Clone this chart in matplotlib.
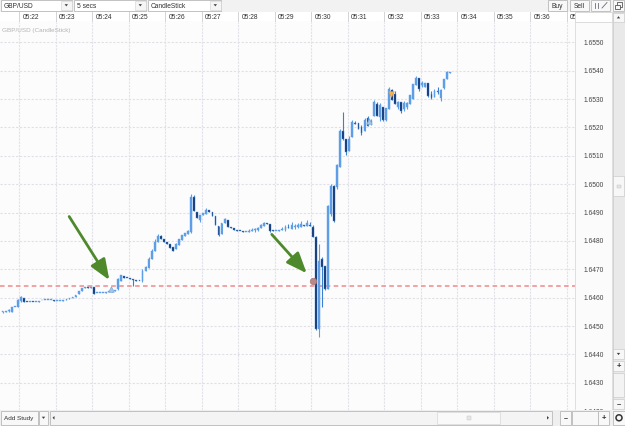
import matplotlib
matplotlib.use("Agg")
import matplotlib.pyplot as plt
from matplotlib.patches import Rectangle, Polygon
from matplotlib.transforms import offset_copy
from datetime import datetime
import numpy as np

plt.rcParams['font.family'] = ['Liberation Sans', 'DejaVu Sans']

# ---------------- data ----------------
symbol = "GBP/USD"
interval_label = "5 secs"
chart_type = "CandleStick"
first_bar_time = "05:21:30"
bar_seconds = 5

opens = [1.64548, 1.64550, 1.64552, 1.64548, 1.64566, 1.64566, 1.64587, 1.64598, 1.64585, 1.64584,
         1.64585, 1.64584, 1.64585, 1.64590, 1.64593, 1.64593, 1.64592, 1.64590, 1.64588, 1.64588,
         1.64589, 1.64592, 1.64594, 1.64598, 1.64601, 1.64612, 1.64622, 1.64635, 1.64636, 1.64635,
         1.64636, 1.64615, 1.64618, 1.64618, 1.64618, 1.64619, 1.64620, 1.64622, 1.64629, 1.64657,
         1.64675, 1.64670, 1.64668, 1.64665, 1.64661, 1.64659, 1.64657, 1.64693, 1.64703, 1.64735,
         1.64763, 1.64795, 1.64816, 1.64806, 1.64795, 1.64788, 1.64778, 1.64770, 1.64785, 1.64802,
         1.64816, 1.64823, 1.64830, 1.64954, 1.64901, 1.64873, 1.64890, 1.64894, 1.64908, 1.64901,
         1.64887, 1.64852, 1.64823, 1.64862, 1.64873, 1.64848, 1.64845, 1.64839, 1.64836, 1.64834,
         1.64832, 1.64832, 1.64836, 1.64838, 1.64839, 1.64845, 1.64852, 1.64862, 1.64859, 1.64838,
         1.64834, 1.64836, 1.64838, 1.64838, 1.64848, 1.64841, 1.64848, 1.64848, 1.64848, 1.64855,
         1.64852, 1.64855, 1.64848, 1.64813, 1.64488, 1.64735, 1.64710, 1.64629, 1.64894, 1.64993,
         1.64989, 1.65060, 1.65187, 1.65159, 1.65116, 1.65166, 1.65215, 1.65215, 1.65201, 1.65187,
         1.65233, 1.65215, 1.65240, 1.65282, 1.65236, 1.65272, 1.65226, 1.65265, 1.65332, 1.65318,
         1.65272, 1.65289, 1.65265, 1.65272, 1.65282, 1.65300, 1.65349, 1.65374, 1.65349, 1.65342,
         1.65356, 1.65318, 1.65307, 1.65328, 1.65303, 1.65339, 1.65370, 1.65392]
highs = [1.64552, 1.64552, 1.64559, 1.64566, 1.64566, 1.64594, 1.64605, 1.64598, 1.64585, 1.64585,
         1.64585, 1.64585, 1.64587, 1.64592, 1.64593, 1.64593, 1.64592, 1.64590, 1.64588, 1.64589,
         1.64590, 1.64594, 1.64598, 1.64603, 1.64608, 1.64622, 1.64635, 1.64636, 1.64636, 1.64636,
         1.64636, 1.64618, 1.64618, 1.64618, 1.64619, 1.64622, 1.64622, 1.64626, 1.64668, 1.64680,
         1.64675, 1.64670, 1.64668, 1.64665, 1.64661, 1.64659, 1.64700, 1.64710, 1.64742, 1.64770,
         1.64806, 1.64823, 1.64820, 1.64806, 1.64795, 1.64788, 1.64778, 1.64792, 1.64806, 1.64820,
         1.64827, 1.64838, 1.64965, 1.64961, 1.64901, 1.64890, 1.64898, 1.64915, 1.64908, 1.64901,
         1.64887, 1.64852, 1.64862, 1.64880, 1.64873, 1.64848, 1.64845, 1.64839, 1.64836, 1.64834,
         1.64833, 1.64841, 1.64845, 1.64845, 1.64848, 1.64859, 1.64866, 1.64862, 1.64859, 1.64838,
         1.64836, 1.64838, 1.64848, 1.64855, 1.64859, 1.64866, 1.64859, 1.64862, 1.64869, 1.64855,
         1.64873, 1.64866, 1.64855, 1.64816, 1.64788, 1.64742, 1.64710, 1.64926, 1.65000, 1.64996,
         1.65070, 1.65194, 1.65254, 1.65159, 1.65169, 1.65226, 1.65222, 1.65215, 1.65208, 1.65233,
         1.65240, 1.65229, 1.65296, 1.65289, 1.65286, 1.65272, 1.65268, 1.65342, 1.65335, 1.65328,
         1.65293, 1.65289, 1.65293, 1.65289, 1.65314, 1.65353, 1.65381, 1.65374, 1.65363, 1.65356,
         1.65356, 1.65328, 1.65335, 1.65342, 1.65335, 1.65370, 1.65399, 1.65395]
lows = [1.64546, 1.64548, 1.64550, 1.64548, 1.64566, 1.64566, 1.64583, 1.64583, 1.64584, 1.64584,
        1.64584, 1.64584, 1.64585, 1.64590, 1.64593, 1.64593, 1.64592, 1.64588, 1.64588, 1.64588,
        1.64589, 1.64592, 1.64594, 1.64598, 1.64601, 1.64612, 1.64622, 1.64635, 1.64635, 1.64635,
        1.64612, 1.64615, 1.64618, 1.64618, 1.64618, 1.64619, 1.64620, 1.64622, 1.64626, 1.64657,
        1.64670, 1.64668, 1.64665, 1.64640, 1.64659, 1.64657, 1.64654, 1.64693, 1.64703, 1.64735,
        1.64763, 1.64795, 1.64806, 1.64795, 1.64788, 1.64774, 1.64763, 1.64770, 1.64785, 1.64802,
        1.64816, 1.64823, 1.64827, 1.64905, 1.64880, 1.64866, 1.64890, 1.64894, 1.64903, 1.64887,
        1.64855, 1.64816, 1.64823, 1.64862, 1.64848, 1.64845, 1.64839, 1.64836, 1.64834, 1.64832,
        1.64832, 1.64832, 1.64836, 1.64830, 1.64834, 1.64845, 1.64852, 1.64859, 1.64830, 1.64834,
        1.64834, 1.64836, 1.64838, 1.64834, 1.64846, 1.64841, 1.64841, 1.64845, 1.64848, 1.64852,
        1.64852, 1.64852, 1.64813, 1.64485, 1.64460, 1.64566, 1.64626, 1.64629, 1.64887, 1.64866,
        1.64982, 1.65060, 1.65155, 1.65102, 1.65116, 1.65166, 1.65212, 1.65194, 1.65173, 1.65187,
        1.65205, 1.65208, 1.65240, 1.65240, 1.65222, 1.65222, 1.65222, 1.65265, 1.65296, 1.65282,
        1.65265, 1.65250, 1.65258, 1.65265, 1.65282, 1.65300, 1.65349, 1.65328, 1.65342, 1.65342,
        1.65307, 1.65300, 1.65307, 1.65318, 1.65293, 1.65335, 1.65370, 1.65392]
closes = [1.64550, 1.64550, 1.64555, 1.64566, 1.64566, 1.64590, 1.64601, 1.64585, 1.64584, 1.64585,
          1.64584, 1.64585, 1.64587, 1.64592, 1.64593, 1.64593, 1.64592, 1.64588, 1.64588, 1.64589,
          1.64590, 1.64594, 1.64598, 1.64603, 1.64608, 1.64622, 1.64635, 1.64636, 1.64635, 1.64636,
          1.64612, 1.64618, 1.64618, 1.64618, 1.64619, 1.64622, 1.64622, 1.64626, 1.64665, 1.64679,
          1.64670, 1.64668, 1.64665, 1.64663, 1.64659, 1.64657, 1.64693, 1.64707, 1.64735, 1.64763,
          1.64795, 1.64816, 1.64806, 1.64795, 1.64788, 1.64774, 1.64763, 1.64788, 1.64806, 1.64820,
          1.64827, 1.64834, 1.64954, 1.64905, 1.64880, 1.64890, 1.64898, 1.64908, 1.64903, 1.64887,
          1.64855, 1.64820, 1.64862, 1.64876, 1.64848, 1.64845, 1.64839, 1.64836, 1.64834, 1.64832,
          1.64833, 1.64836, 1.64838, 1.64839, 1.64845, 1.64855, 1.64862, 1.64859, 1.64834, 1.64834,
          1.64836, 1.64838, 1.64841, 1.64848, 1.64846, 1.64855, 1.64852, 1.64855, 1.64859, 1.64852,
          1.64862, 1.64852, 1.64813, 1.64488, 1.64728, 1.64707, 1.64629, 1.64922, 1.64993, 1.64869,
          1.65067, 1.65187, 1.65159, 1.65113, 1.65159, 1.65219, 1.65212, 1.65194, 1.65180, 1.65226,
          1.65205, 1.65222, 1.65289, 1.65240, 1.65279, 1.65226, 1.65268, 1.65335, 1.65296, 1.65282,
          1.65289, 1.65258, 1.65286, 1.65286, 1.65314, 1.65353, 1.65374, 1.65335, 1.65356, 1.65356,
          1.65310, 1.65303, 1.65328, 1.65325, 1.65332, 1.65370, 1.65395, 1.65395]

time_labels = ["05:22", "05:23", "05:24", "05:25", "05:26", "05:27", "05:28", "05:29",
               "05:30", "05:31", "05:32", "05:33", "05:34", "05:35", "05:36", "05:37"]
price_ticks = [1.6420, 1.6430, 1.6440, 1.6450, 1.6460, 1.6470, 1.6480,
               1.6490, 1.6500, 1.6510, 1.6520, 1.6530, 1.6540, 1.6550]
alert_level = 1.64642
buy_marker_bar = [35.6, 120.5]
buy_marker_price = [1.64630, 1.65222]
sell_marker_bar = [127.7]
sell_marker_price = [1.65318]
fill_bar = [102.2]
fill_price = [1.64658]
arrow_start_bar = [21.9, 88.5]
arrow_start_price = [1.64886, 1.64823]
arrow_tip_bar = [35.1, 100.0]
arrow_tip_price = [1.64662, 1.64686]

# ---------------- figure ----------------
W, H = 625, 427
fig = plt.figure(figsize=(W / 100, H / 100), dpi=100)
fig.patch.set_facecolor('#efefef')

ui = fig.add_axes([0, 0, 1, 1], zorder=0)
ui.set_xlim(0, W)
ui.set_ylim(H, 0)
ui.axis('off')


def px_axes(x0, y0, x1, y1, z=1):
    return fig.add_axes([x0 / W, 1 - y1 / H, (x1 - x0) / W, (y1 - y0) / H], zorder=z)


def box(x0, y0, x1, y1, fc='#ffffff', ec='#b9b9b9', lw=0.6, z=1):
    ui.add_patch(Rectangle((x0, y0), x1 - x0, y1 - y0, facecolor=fc,
                           edgecolor=ec, linewidth=lw, zorder=z))


def txt(x, y, s, size=4.8, color='#303030', ha='left', va='center', **kw):
    ui.text(x, y, s, fontsize=size, color=color, ha=ha, va=va, **kw)


def tri(cx, cy, w, h, direction, color='#404040'):
    if direction == 'down':
        pts = [(cx - w / 2, cy - h / 2), (cx + w / 2, cy - h / 2), (cx, cy + h / 2)]
    elif direction == 'up':
        pts = [(cx - w / 2, cy + h / 2), (cx + w / 2, cy + h / 2), (cx, cy - h / 2)]
    elif direction == 'left':
        pts = [(cx + h / 2, cy - w / 2), (cx + h / 2, cy + w / 2), (cx - h / 2, cy)]
    else:
        pts = [(cx - h / 2, cy - w / 2), (cx - h / 2, cy + w / 2), (cx + h / 2, cy)]
    ui.add_patch(Polygon(pts, closed=True, facecolor=color, edgecolor='none', zorder=3))


# toolbar
box(0, 0, W, 12.5, fc='#f2f2f2', ec='none')
for (x0, x1, s) in [(1, 72, symbol), (74, 146, interval_label), (148, 221, chart_type)]:
    box(x0, 1, x1, 11.5)
    txt(x0 + 3, 6.5, s)
    box(x1 - 11, 1.5, x1 - 0.5, 11, fc='#f5f5f5', ec='#d0d0d0', lw=0.4)
    tri(x1 - 5.7, 6.3, 3.4, 2.2, 'down')
box(548, 1, 567, 11.5, fc='#f8f8f8')
txt(557.5, 6.5, 'Buy', ha='center')
box(570, 1, 589, 11.5, fc='#f8f8f8')
txt(579.5, 6.5, 'Sell', ha='center')
box(591, 1, 610, 11.5, fc='#f8f8f8')
for xx in (595, 597.5):
    ui.plot([xx, xx], [3.5, 9], color='#6b6b7a', lw=0.6, zorder=3)
ui.plot([602, 607], [9, 3.5], color='#6b6b7a', lw=0.6, zorder=3)
box(613, 1, 624, 11.5, fc='#f8f8f8')
box(617, 3, 622, 7.5, fc='none', ec='#555555', lw=0.6, z=3)
box(615, 5.5, 620, 10, fc='#f8f8f8', ec='#555555', lw=0.6, z=4)

# right price column + scroll column + header right part
box(575, 13, 611.5, 23, fc='#ffffff', ec='#d0d0d0', lw=0.5)
box(575, 23, 611.5, 410.5, fc='#fbfbfb', ec='#d6d6d6', lw=0.5)
box(612.5, 13, 624.5, 410.5, fc='#e9e9e9', ec='#c8c8c8', lw=0.5)
box(613, 13.5, 624, 23, fc='#f7f7f7', ec='#c4c4c4', lw=0.4)
tri(618.5, 18.3, 3.4, 2.2, 'up')
box(613, 177, 624, 197, fc='#f7f7f7', ec='#c4c4c4', lw=0.4)
box(616.5, 185.5, 620.5, 188.5, fc='#e4e4e4', ec='#c0c0c0', lw=0.3, z=3)
box(613, 350, 624, 360, fc='#f7f7f7', ec='#c4c4c4', lw=0.4)
tri(618.5, 355, 3.4, 2.2, 'down')
box(613, 361.5, 624, 372, fc='#f7f7f7', ec='#c4c4c4', lw=0.4)
txt(618.5, 366.5, '+', size=5.5, ha='center', weight='bold')
box(613, 373.5, 624, 398, fc='#f3f3f3', ec='#c4c4c4', lw=0.4)
box(613, 399.5, 624, 410, fc='#f7f7f7', ec='#c4c4c4', lw=0.4)
txt(618.5, 404.5, '\u2013', size=5.5, ha='center', weight='bold')

# bottom bar
box(0, 410.5, W, H, fc='#efefef', ec='none')
box(1, 412, 38, 425.5, fc='#f8f8f8')
txt(3.5, 419, 'Add Study', size=4.6)
box(39, 412, 48, 425.5, fc='#f8f8f8')
tri(43.5, 418.8, 3.4, 2.2, 'down')
box(50, 412, 551.5, 425.5, fc='#f4f4f4')
tri(53.5, 418.8, 3.6, 2.0, 'left')
box(437, 412.5, 500, 425, fc='#f9f9f9', ec='#cfcfcf', lw=0.4)
box(466.5, 417, 470.5, 421, fc='#e6e6e6', ec='#c4c4c4', lw=0.3, z=3)
tri(548, 418.8, 3.6, 2.0, 'right')
box(560, 412, 571, 425.5, fc='#f8f8f8')
txt(565.5, 418.8, '\u2013', size=5.2, ha='center', weight='bold')
box(572, 412, 598, 425.5, fc='#f8f8f8')
box(598, 412, 609, 425.5, fc='#f8f8f8')
txt(603.5, 418.8, '+', size=5.5, ha='center', weight='bold')
box(613, 412, 624.5, 425.5, fc='#f8f8f8')
ui.add_patch(matplotlib.patches.Circle((619, 418.8), 3.0, facecolor='none',
                                       edgecolor='#333333', linewidth=1.1, zorder=3))

# ---------------- main chart ----------------
n = len(closes)
xs = np.arange(n)
t0 = datetime.strptime(first_bar_time, "%H:%M:%S")
tick_pos = [((datetime.strptime(t, "%H:%M") - t0).total_seconds() / bar_seconds) - 0.5
            for t in time_labels]

x_left, x_right = -0.845, 188.2
y_bottom, y_top = 1.642058, 1.655716

ax = px_axes(0, 23, 575, 410.5, z=2)
ax.set_facecolor('#fcfcfd')
ax.set_xlim(x_left, x_right)
ax.set_ylim(y_bottom, y_top)
for sp in ax.spines.values():
    sp.set_visible(False)
ax.set_xticks([])
ax.set_yticks([])

for p in tick_pos:
    ax.axvline(p, color='#e2e2ea', lw=0.8, ls=(0, (2, 1)), zorder=0)
for p in price_ticks:
    ax.axhline(p, color='#e0e0e6', lw=0.8, ls=(0, (2, 1.5)), zorder=0)

ax.axhline(alert_level, color='#f08a8a', lw=1.1, ls=(0, (3, 2.2)), zorder=1)

UP = '#5d9ee6'
DOWN = '#0e2f66'
o = np.array(opens)
c = np.array(closes)
hi = np.array(highs)
lo = np.array(lows)
up = c >= o
min_h = 0.000035
bottoms = np.minimum(o, c)
heights = np.maximum(np.abs(c - o), min_h)
face = np.where(up, UP, DOWN)
edge = np.where(up, UP, '#4f8fdc')
ax.vlines(xs, lo, hi, colors=np.where(up, UP, '#3c7fd0'), lw=0.8, zorder=2)
ax.bar(xs, heights, bottom=bottoms, width=0.6, color=face, edgecolor=edge,
       linewidth=0.3, zorder=3)

# trade markers
ax.scatter(buy_marker_bar, buy_marker_price, marker='^', s=16, color='#a7c6e6',
           edgecolor='#7ea8d6', linewidth=0.5, zorder=5)
ax.scatter(sell_marker_bar, sell_marker_price, marker='v', s=16, color='#f2b45a',
           edgecolor='#e39a36', linewidth=0.5, zorder=5)
ax.scatter(fill_bar, fill_price, marker='o', s=22, color='#b98888',
           edgecolor='#a87676', linewidth=0.5, zorder=5)

# annotation arrows
for sx, sy, tx, ty in zip(arrow_start_bar, arrow_start_price, arrow_tip_bar, arrow_tip_price):
    ax.annotate('', xy=(tx, ty), xytext=(sx, sy),
                arrowprops=dict(arrowstyle='-|>,head_length=1.25,head_width=0.5',
                                color='#4e8a2c', lw=2.0, mutation_scale=10,
                                shrinkA=0, shrinkB=0), zorder=6)

ax.text(0.004, 0.987, f"{symbol} ({chart_type})", transform=ax.transAxes,
        fontsize=4.6, color='#b3b3b3', ha='left', va='top')

# time header
hax = px_axes(0, 13, 575, 23, z=2)
hax.set_facecolor('#ffffff')
hax.set_xlim(x_left, x_right)
hax.set_ylim(0, 1)
for sp in hax.spines.values():
    sp.set_visible(False)
hax.set_xticks([])
hax.set_yticks([])
hax.axhline(0, color='#d0d0d0', lw=0.8)
tr = offset_copy(hax.transData, fig=fig, x=3.0, y=0, units='dots')
for p, lab in zip(tick_pos, time_labels):
    hax.axvline(p, color='#d4d4d4', lw=0.7)
    hax.text(p, 0.5, lab, transform=tr, fontsize=4.8, color='#333333',
             ha='left', va='center', clip_on=True)

# price labels
pax = px_axes(575, 23, 611.5, 410.5, z=2)
pax.set_facecolor('none')
pax.set_ylim(y_bottom, y_top)
pax.set_xlim(0, 1)
pax.axis('off')
for p in price_ticks:
    pax.text(0.5, p, f"{p:.4f}", fontsize=4.8, color='#444444', ha='center',
             va='center', clip_on=True)

fig.savefig('out.png', dpi=100, facecolor=fig.get_facecolor())
